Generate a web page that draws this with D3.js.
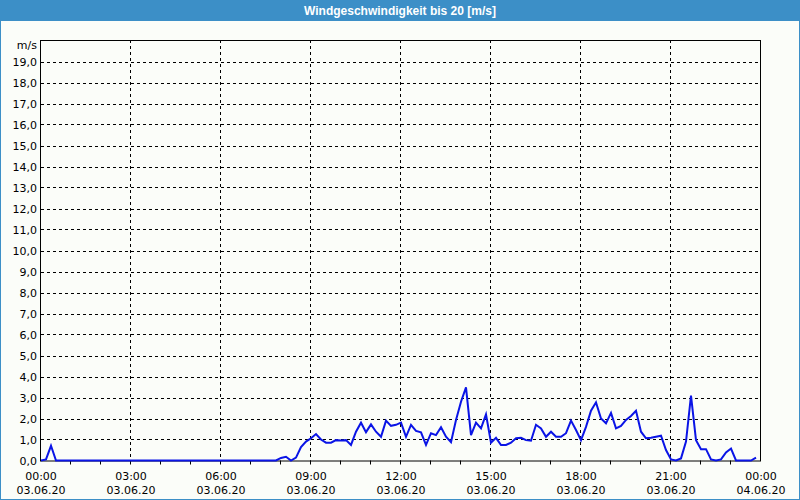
<!DOCTYPE html>
<html><head><meta charset="utf-8">
<script src="https://cdn.jsdelivr.net/npm/d3@7"></script>
<style>html,body{margin:0;padding:0;background:#fbfdf9;}svg{display:block;}</style>
</head><body>
<script>
const title = "Windgeschwindigkeit bis 20 [m/s]";
const unitLabel = "m/s";
const startTime = new Date(2020, 5, 3, 0, 0);
const endTime = new Date(2020, 5, 4, 0, 0);
const stepMinutes = 10;
// wind speed every 10 minutes, starting 03.06.20 00:00
const windSpeed = [
  0, 0.05, 0.7, 0, 0, 0, 0, 0, 0, 0,
  0, 0, 0, 0, 0, 0, 0, 0, 0, 0,
  0, 0, 0, 0, 0, 0, 0, 0, 0, 0,
  0, 0, 0, 0, 0, 0, 0, 0, 0, 0,
  0, 0, 0, 0, 0, 0, 0, 0, 0.12, 0.18,
  0, 0.14, 0.64, 0.9, 1.06, 1.26, 1.0, 0.85, 0.85, 0.97,
  0.95, 0.97, 0.74, 1.37, 1.8, 1.35, 1.72, 1.37, 1.13, 1.9,
  1.65, 1.7, 1.8, 1.13, 1.7, 1.41, 1.34, 0.74, 1.3, 1.21,
  1.58, 1.13, 0.87, 1.93, 2.8, 3.48, 1.21, 1.8, 1.53, 2.2,
  0.85, 1.08, 0.74, 0.74, 0.85, 1.06, 1.08, 0.97, 0.94, 1.7,
  1.53, 1.13, 1.37, 1.13, 1.13, 1.3, 1.9, 1.45, 0.97, 1.6,
  2.37, 2.77, 2.0, 1.77, 2.27, 1.53, 1.65, 1.93, 2.12, 2.37,
  1.37, 1.06, 1.08, 1.13, 1.18, 0.5, 0.05, 0, 0.1, 0.9,
  3.09, 0.97, 0.54, 0.54, 0.05, 0, 0.05, 0.38, 0.57, 0,
  0, 0, 0, 0.14
];
const yTicks = [0,1,2,3,4,5,6,7,8,9,10,11,12,13,14,15,16,17,18,19];
const xTickTimes = ["00:00","03:00","06:00","09:00","12:00","15:00","18:00","21:00","00:00"];
const xTickDates = ["03.06.20","03.06.20","03.06.20","03.06.20","03.06.20","03.06.20","03.06.20","03.06.20","04.06.20"];

const W = 800, H = 500;
const blue = "#3c8fc7";
const font = "Tahoma, 'DejaVu Sans', 'Liberation Sans', sans-serif";
const m = {left: 41, right: 761, top: 40, bottom: 460.5};

const svg = d3.select("body").append("svg").attr("width", W).attr("height", H);
svg.append("rect").attr("width", W).attr("height", H).attr("fill", "#fbfdf9");
// title bar
svg.append("rect").attr("x",0).attr("y",0).attr("width",W).attr("height",21).attr("fill",blue);
svg.append("text").attr("x", W/2).attr("y", 15).attr("text-anchor","middle")
  .attr("fill","#fff").attr("font-family", "'Liberation Sans', Arial, sans-serif").attr("font-weight","bold")
  .attr("font-size","12px").text(title);
// outer border
svg.append("rect").attr("x",0.5).attr("y",0.5).attr("width",W-1).attr("height",H-1)
  .attr("fill","none").attr("stroke",blue).attr("stroke-width",1);

const x = d3.scaleTime().domain([startTime, endTime]).range([m.left, m.right]);
const y = d3.scaleLinear().domain([0, 20]).range([m.bottom, m.bottom - 420]);

const data = windSpeed.map((v,i) => ({t: d3.timeMinute.offset(startTime, i*stepMinutes), v}));

// horizontal grid
svg.append("g").selectAll("line").data(yTicks.filter(d=>d>0)).join("line")
  .attr("x1", m.left).attr("x2", m.right)
  .attr("y1", d=>Math.round(y(d))+0.5).attr("y2", d=>Math.round(y(d))+0.5)
  .attr("stroke","#000").attr("stroke-dasharray","3,3").attr("stroke-width",1);
// vertical grid
const majorTicks = d3.timeHour.every(3).range(startTime, d3.timeMinute.offset(endTime,1));
svg.append("g").selectAll("line").data(majorTicks.slice(1, -1)).join("line")
  .attr("x1", d=>Math.round(x(d))-0.5).attr("x2", d=>Math.round(x(d))-0.5)
  .attr("y1", m.top).attr("y2", m.bottom)
  .attr("stroke","#000").attr("stroke-dasharray","3,3").attr("stroke-width",1);

// minor hourly ticks
const hourTicks = d3.timeHour.every(1).range(startTime, endTime);
svg.append("g").selectAll("line").data(hourTicks.slice(1)).join("line")
  .attr("x1", d=>Math.round(x(d))-0.5).attr("x2", d=>Math.round(x(d))-0.5)
  .attr("y1", m.bottom).attr("y2", m.bottom + 4)
  .attr("stroke","#000");

// plot border
svg.append("rect").attr("x", m.left-0.5).attr("y", m.top+0.5)
  .attr("width", m.right - m.left).attr("height", m.bottom - m.top)
  .attr("fill","none").attr("stroke","#000").attr("stroke-width",1);

// y labels
svg.append("g").selectAll("text").data(yTicks).join("text")
  .attr("x", 37).attr("y", d=>y(d)+4).attr("text-anchor","end")
  .attr("font-family", font).attr("font-size","11px").attr("fill","#000")
  .text(d=>d3.format(".1f")(d).replace(".", ","));
svg.append("text").attr("x", 37).attr("y", 49).attr("text-anchor","end")
  .attr("font-family", font).attr("font-size","11px").text(unitLabel);

// x labels
const xg = svg.append("g").selectAll("g").data(majorTicks).join("g")
  .attr("transform", d=>`translate(${x(d)},0)`);
xg.append("text").attr("y", 480).attr("text-anchor","middle")
  .attr("font-family", font).attr("font-size","11px").text((d,i)=>xTickTimes[i]);
xg.append("text").attr("y", 494).attr("text-anchor","middle")
  .attr("font-family", font).attr("font-size","11px").text((d,i)=>xTickDates[i]);

// line
const line = d3.line().x(d=>x(d.t)).y(d=>y(d.v));
svg.append("path").datum(data).attr("d", line)
  .attr("fill","none").attr("stroke","#0a14e6").attr("stroke-width",2).attr("stroke-linejoin","miter");
</script>
</body></html>
